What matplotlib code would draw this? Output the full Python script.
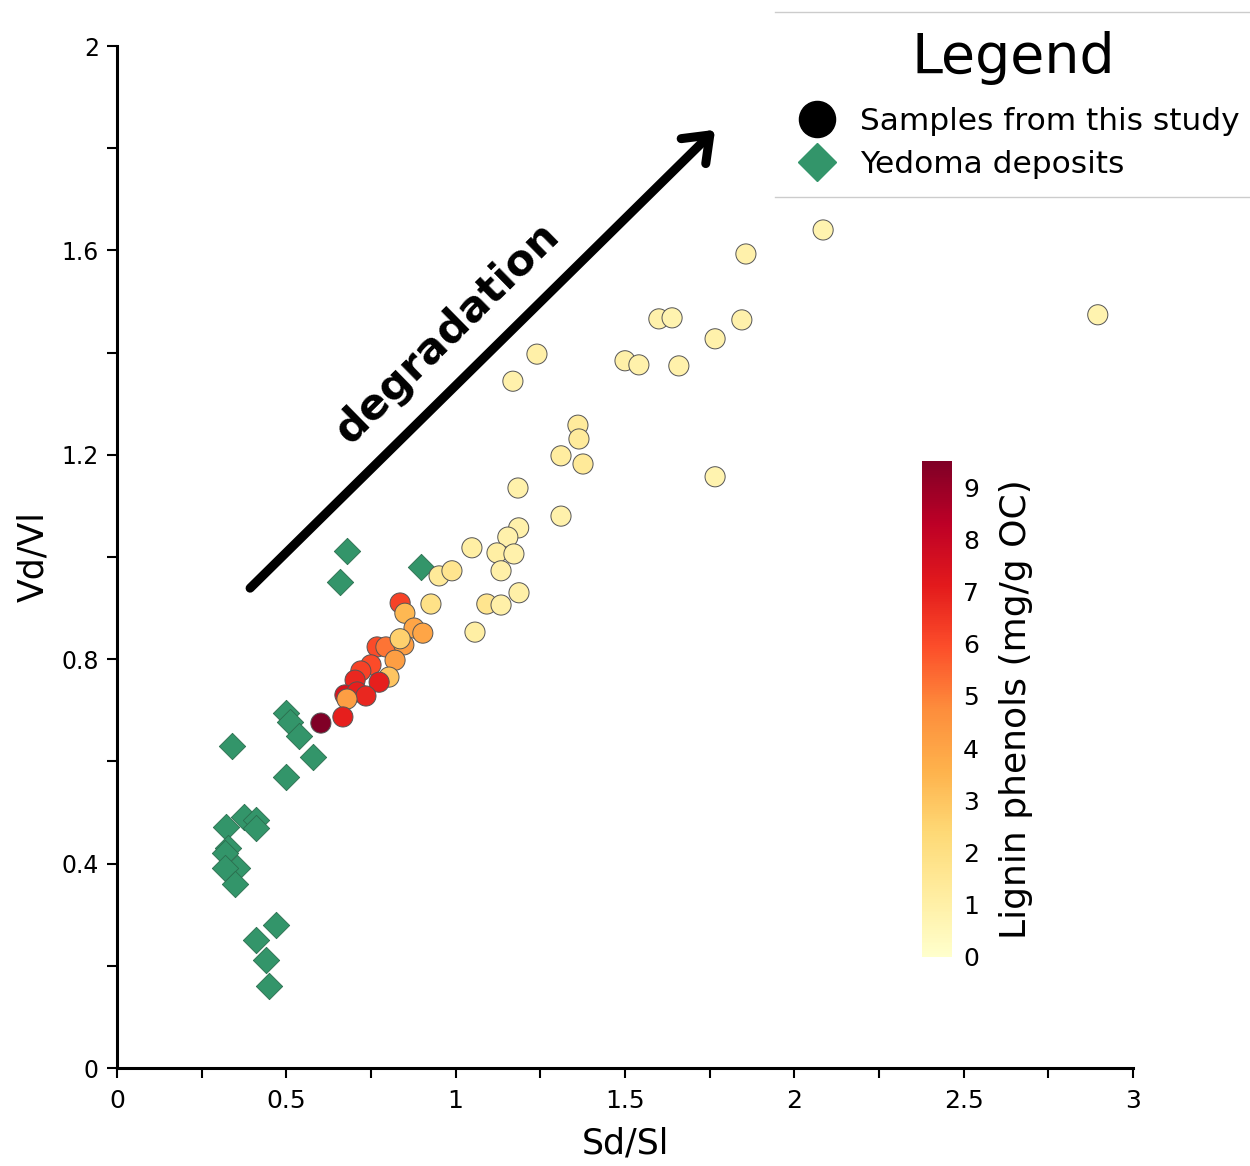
import numpy as np
import matplotlib
matplotlib.use("Agg")
import matplotlib.pyplot as plt
from matplotlib.lines import Line2D

# samples from this study: Sd/Sl, Vd/Vl, lignin phenols (mg/g OC)
sd_sl = [2.085, 1.857, 2.896, 1.600, 1.639, 1.845, 1.766, 1.500, 1.541, 1.659,
         1.240, 1.169, 1.766, 1.361, 1.364, 1.311, 1.376, 1.184, 1.311, 1.186,
         1.154, 1.048, 1.122, 1.172, 1.134, 0.951, 0.989, 0.927, 1.092, 1.134,
         1.187, 1.057,
         0.836, 0.850, 0.877, 0.903, 0.768, 0.794, 0.847, 0.836, 0.821, 0.750,
         0.720, 0.803, 0.774, 0.703, 0.673, 0.709, 0.735, 0.679, 0.667, 0.602]
vd_vl = [1.640, 1.593, 1.474, 1.466, 1.468, 1.464, 1.427, 1.384, 1.376, 1.374,
         1.397, 1.344, 1.157, 1.258, 1.231, 1.198, 1.182, 1.135, 1.080, 1.057,
         1.039, 1.018, 1.008, 1.006, 0.973, 0.963, 0.973, 0.908, 0.908, 0.906,
         0.930, 0.853,
         0.910, 0.890, 0.861, 0.851, 0.824, 0.824, 0.828, 0.840, 0.798, 0.789,
         0.777, 0.765, 0.755, 0.759, 0.730, 0.736, 0.728, 0.722, 0.687, 0.675]
lignin = [0.8, 0.9, 0.8, 0.9, 0.8, 0.9, 0.9, 1.0, 0.9, 0.9,
          1.0, 0.9, 0.8, 1.3, 1.3, 1.2, 1.4, 0.9, 0.9, 0.9,
          0.9, 1.1, 1.1, 0.9, 1.0, 1.4, 1.7, 1.9, 1.7, 1.0,
          1.0, 1.1,
          6.2, 3.4, 4.0, 4.0, 6.0, 5.2, 4.2, 2.6, 4.2, 6.0,
          6.2, 3.0, 7.0, 6.8, 7.4, 7.0, 6.8, 4.2, 7.0, 9.5]

# Yedoma deposits
yed_sd = [0.679, 0.658, 0.898, 0.499, 0.511, 0.537, 0.340, 0.579, 0.499, 0.375,
          0.410, 0.410, 0.322, 0.328, 0.319, 0.354, 0.319, 0.348, 0.469, 0.410,
          0.440, 0.449]
yed_vd = [1.012, 0.951, 0.980, 0.695, 0.677, 0.650, 0.630, 0.609, 0.569, 0.491,
          0.485, 0.470, 0.472, 0.430, 0.421, 0.391, 0.391, 0.360, 0.280, 0.250,
          0.211, 0.160]

green = "#33956a"

fig = plt.figure(figsize=(12.5, 11.66), dpi=100)
ax = fig.add_axes([117/1250, 98/1166, 1016/1250, 1022/1166])

ax.scatter(yed_sd, yed_vd, marker="D", s=180, color=green, edgecolor="#2b6e4e",
           linewidth=0.6, zorder=2)
sc = ax.scatter(sd_sl, vd_vl, c=lignin, cmap="YlOrRd", vmin=0, vmax=9.5, s=210,
                edgecolor="#555555", linewidth=0.7, zorder=3)

ax.set_xlim(0, 3)
ax.set_ylim(0, 2)
ax.set_xticks(np.arange(0, 3.01, 0.5))
ax.set_xticklabels(["0", "0.5", "1", "1.5", "2", "2.5", "3"])
ax.set_xticks(np.arange(0.25, 3, 0.5), minor=True)
ax.set_yticks([0, 0.4, 0.8, 1.2, 1.6, 2.0])
ax.set_yticklabels(["0", "0.4", "0.8", "1.2", "1.6", "2"])
ax.set_yticks([0.2, 0.6, 1.0, 1.4, 1.8], minor=True)
for s in ["top", "right"]:
    ax.spines[s].set_visible(False)
for s in ["left", "bottom"]:
    ax.spines[s].set_linewidth(2.2)
ax.tick_params(which="both", direction="out", length=7, width=1.5)
ax.tick_params(axis="x", labelsize=18, pad=8)
ax.tick_params(axis="y", labelsize=17, pad=6)
ax.set_xlabel("Sd/Sl", fontsize=25, labelpad=10)
ax.set_ylabel("Vd/Vl", fontsize=25, labelpad=8)

# degradation arrow
ax.annotate("", xy=(1.766, 1.836), xytext=(0.393, 0.939),
            arrowprops=dict(arrowstyle="->,head_length=0.55,head_width=0.42",
                            lw=6.5, color="black", shrinkA=0, shrinkB=0,
                            mutation_scale=30, capstyle="round",
                            joinstyle="round"))
ax.text(0.974, 1.438, "degradation", rotation=44.5, rotation_mode="anchor",
        ha="center", va="center", fontsize=31, fontweight="bold")

# colorbar
cax = fig.add_axes([922/1250, (1166-957)/1166, 30/1250, 496/1166])
cb = fig.colorbar(sc, cax=cax, ticks=range(10))
cb.outline.set_visible(False)
cax.tick_params(length=0, labelsize=18, pad=8)
cb.set_label("Lignin phenols (mg/g OC)", fontsize=26, labelpad=14)

# legend
fig.text(1013/1250, 1 - 58/1166, "Legend", ha="center", va="center", fontsize=40)
handles = [Line2D([], [], marker="o", color="black", linestyle="None", markersize=26),
           Line2D([], [], marker="D", color=green, linestyle="None", markersize=19)]
leg = fig.legend(handles, ["Samples from this study", "Yedoma deposits"],
                 loc="center left", bbox_to_anchor=(795/1250, 1 - 143/1166),
                 frameon=False, fontsize=22.5, handlelength=1.4,
                 handletextpad=0.68, labelspacing=0.45, borderpad=0,
                 borderaxespad=0)
for yy in [12, 197]:
    fig.add_artist(Line2D([775/1250, 1.0], [1 - yy/1166] * 2,
                          transform=fig.transFigure, color="#cccccc", lw=1))

fig.savefig("out.png", dpi=100)
